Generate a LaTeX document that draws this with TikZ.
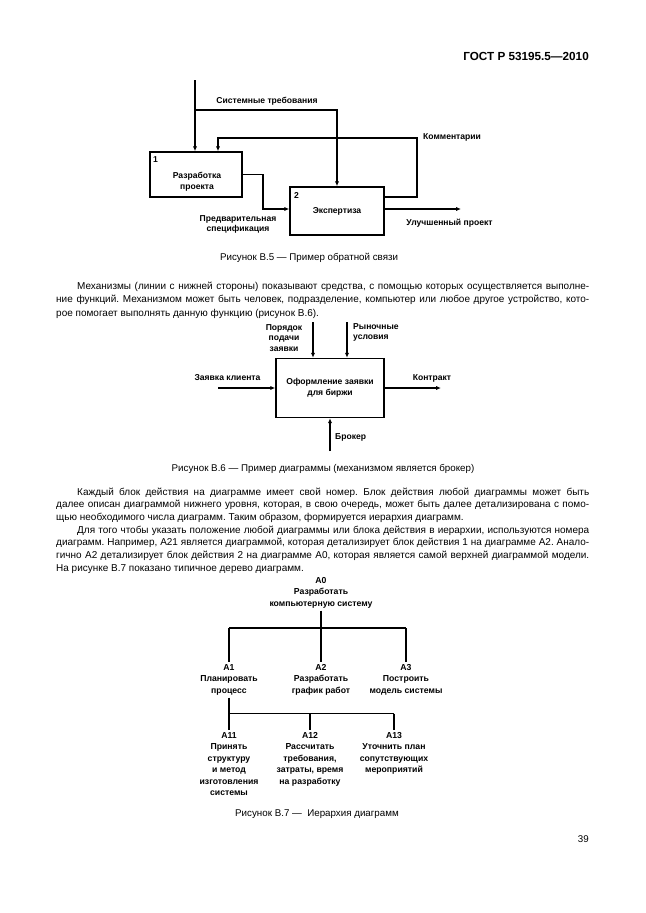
\documentclass[tikz,border=0pt]{standalone}
\usepackage{fontspec}
\setmainfont{Liberation Sans}
\usetikzlibrary{arrows.meta}
\newlength\pxl
\setlength\pxl{0.9215pt}
\frenchspacing
\begin{document}
\begin{tikzpicture}[x=0.9215pt,y=-0.9215pt,
  every node/.style={inner sep=0pt},
  lbl/.style={font=\fontsize{7.9}{9.8}\selectfont\bfseries, align=center},
  tlbl/.style={font=\fontsize{8}{10.6}\selectfont\bfseries, align=center, inner sep=2pt},
  body/.style={font=\fontsize{9.2}{13}\selectfont, anchor=base west},
  capt/.style={font=\fontsize{9}{11}\selectfont, anchor=base},
  blk/.style={draw, line width=1.3pt, minimum width=#1},
  arr/.style={line width=1.05pt, -{Latex[length=4.5pt,width=3.8pt]}},
  treev/.style={line width=2.3pt},
  treeh/.style={line width=1.6pt},
]
\useasboundingbox (0,0) rectangle (646,913);

% header
\node[font=\fontsize{10.8}{12}\selectfont\bfseries, anchor=base east] (hdr) at (589,60) {ГОСТ Р 53195.5—2010};

% ---------- Figure B.5 ----------
\node[blk=92\pxl, minimum height=45\pxl] (b1) at (196,174.5) {};
\node[blk=94\pxl, minimum height=48\pxl] (b2) at (337,211) {};
\node[lbl, anchor=north west] (n1) at (153,156) {1};
\node[lbl] (t1) at (197,181.5) {Разработка\\проекта};
\node[lbl, anchor=north west] (n2) at (294,192) {2};
\node[lbl] (t2) at (337,211.5) {Экспертиза};

\coordinate (sysin) at (195,80);
\coordinate (sysj) at (195,110);
\draw[arr] (sysin) -- (sysin |- b1.north);
\draw[arr] (sysj) -| (b2.north);
\node[lbl] (lsys) at (267,101) {Системные требования};

\coordinate (cm) at (417,138);
\coordinate (cmend) at (218,138);
\draw[arr] (b2.east |- 0,197) -| (cm) -- (cmend) -- (cmend |- b1.north);
\node[lbl, anchor=west] (lcm) at (423,137) {Комментарии};

\coordinate (pre) at (263,190);
\draw[arr] (b1.east) -| (pre) |- (b2.west |- 0,209);
\node[lbl] (lpre) at (238,224.5) {Предварительная\\спецификация};

\coordinate (out5) at (461,209);
\draw[arr] (b2.east |- out5) -- (out5);
\node[lbl] (lout) at (449.5,223) {Улучшенный проект};

\node[capt] (c5) at (309,260) {Рисунок В.5 — Пример обратной связи};

% ---------- text 1 ----------
\node[body] (p1a) at (77,289) {\makebox[512\pxl][s]{Механизмы (линии с нижней стороны) показывают средства, с помощью которых осуществляется выполне-}};
\node[body] (p1b) at (56,302.5) {\makebox[533\pxl][s]{ние функций. Механизмом может быть человек, подразделение, компьютер или любое другое устройство, кото-}};
\node[body] (p1c) at (56,316) {рое помогает выполнять данную функцию (рисунок В.6).};

% ---------- Figure B.6 ----------
\node[blk=108\pxl, minimum height=59\pxl] (b6) at (330,388) {};
\node[lbl] (t6) at (330,387.5) {Оформление заявки\\для биржи};
\coordinate (c6a) at (313,322);
\coordinate (c6b) at (347,322);
\draw[arr] (c6a) -- (c6a |- b6.north);
\draw[arr] (c6b) -- (c6b |- b6.north);
\node[lbl] (l6a) at (284,338) {Порядок\\подачи\\заявки};
\node[lbl, align=left, anchor=west] (l6b) at (353,332.5) {Рыночные\\условия};
\coordinate (in6) at (218,388);
\draw[arr] (in6) -- (b6.west);
\node[lbl] (l6in) at (227.5,377.5) {Заявка клиента};
\coordinate (out6) at (441,388);
\draw[arr] (b6.east) -- (out6);
\node[lbl] (l6out) at (432,378) {Контракт};
\coordinate (m6) at (330,451);
\draw[arr] (m6) -- (b6.south);
\node[lbl, anchor=west] (l6m) at (335,437.5) {Брокер};

\node[capt] (c6) at (323,471) {Рисунок В.6 — Пример диаграммы (механизмом является брокер)};

% ---------- text 2 ----------
\node[body] (p2a) at (77,495) {\makebox[512\pxl][s]{Каждый блок действия на диаграмме имеет свой номер. Блок действия любой диаграммы может быть}};
\node[body] (p2b) at (56,507.7) {\makebox[533\pxl][s]{далее описан диаграммой нижнего уровня, которая, в свою очередь, может быть далее детализирована с помо-}};
\node[body] (p2c) at (56,520.4) {щью необходимого числа диаграмм. Таким образом, формируется иерархия диаграмм.};
\node[body] (p3a) at (77,533.1) {\makebox[512\pxl][s]{Для того чтобы указать положение любой диаграммы или блока действия в иерархии, используются номера}};
\node[body] (p3b) at (56,545.8) {\makebox[533\pxl][s]{диаграмм. Например, А21 является диаграммой, которая детализирует блок действия 1 на диаграмме А2. Анало-}};
\node[body] (p3c) at (56,558.5) {\makebox[533\pxl][s]{гично А2 детализирует блок действия 2 на диаграмме А0, которая является самой верхней диаграммой модели.}};
\node[body] (p3d) at (56,571.2) {На рисунке В.7 показано типичное дерево диаграмм.};

% ---------- Figure B.7 ----------
\node[tlbl, anchor=north] (a0) at (321,575) {А0\\Разработать\\компьютерную систему};
\node[tlbl, anchor=north] (a1) at (229,662) {А1\\Планировать\\процесс};
\node[tlbl, anchor=north] (a2) at (321,662) {А2\\Разработать\\график работ};
\node[tlbl, anchor=north] (a3) at (406,662) {А3\\Построить\\модель системы};
\node[tlbl, anchor=north] (a11) at (229,730) {А11\\Принять\\структуру\\и метод\\изготовления\\системы};
\node[tlbl, anchor=north] (a12) at (310,730) {А12\\Рассчитать\\требования,\\затраты, время\\на разработку};
\node[tlbl, anchor=north] (a13) at (394,730) {А13\\Уточнить план\\сопутствующих\\мероприятий};

\coordinate (j0) at (321,628);
\coordinate (j1) at (229,713.5);
\draw[treev] (a0.south) -- (j0);
\draw[treeh] (j0 -| a1.north) -- (j0 -| a3.north);
\draw[treev] (j0 -| a1.north) -- (a1.north);
\draw[treev] (j0) -- (a2.north);
\draw[treev] (j0 -| a3.north) -- (a3.north);
\draw[treev] (a1.south) -- (a11.north);
\draw[treeh] (j1) -- (j1 -| a13.north);
\draw[treev] (j1 -| a12.north) -- (a12.north);
\draw[treev] (j1 -| a13.north) -- (a13.north);

\node[capt] (c7) at (317,816) {Рисунок В.7 —\ \ Иерархия диаграмм};

\node[font=\fontsize{9}{11}\selectfont, anchor=base east] (pg) at (589,842) {39};
\end{tikzpicture}
\end{document}
